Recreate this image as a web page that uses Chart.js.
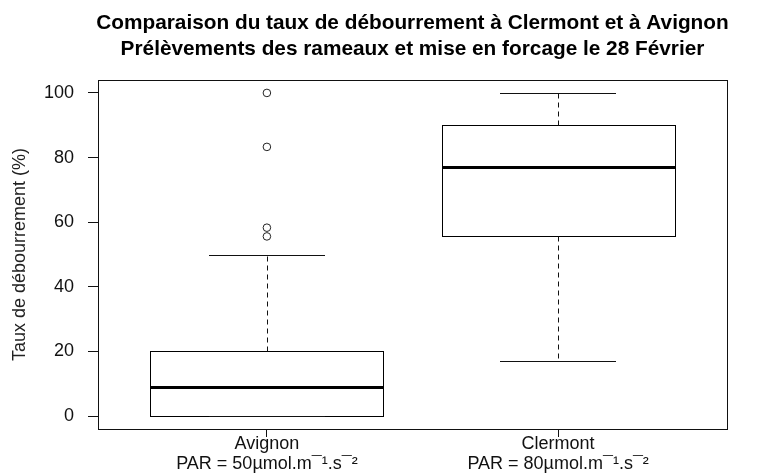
<!DOCTYPE html>
<html>
<head>
<meta charset="utf-8">
<script src="https://cdn.jsdelivr.net/npm/chart.js"></script>
<style>
  html, body { margin: 0; padding: 0; background: #fff; }
  #boite { display: block; }
</style>
</head>
<body>
<canvas id="boite" width="761" height="473"></canvas>
<script>
// valeurs (boxplot R)
const sites = ['Avignon', 'Clermont'];
const parLabels = ['PAR = 50µmol.m¯¹.s¯²', 'PAR = 80µmol.m¯¹.s¯²'];
const moustacheBas = [0, 17];
const q1 = [0, 55.6];
const mediane = [9.1, 77];
const q3 = [20, 90];
const moustacheHaut = [50, 100];
const horsAvignon = [100, 83.3, 58.3, 55.6];
const horsClermont = [];
const yTicks = [0, 20, 40, 60, 80, 100];
const titre = [
  'Comparaison du taux de débourrement à Clermont et à Avignon',
  'Prélèvements des rameaux et mise en forcage le 28 Février'
];

const police = "'Liberation Sans', Arial, sans-serif";

const boites = sites.map((s, i) => ({ x: i + 1, y: [q1[i], q3[i]] }));
const pointsHors = [
  ...horsAvignon.map(v => ({ x: 1, y: v })),
  ...horsClermont.map(v => ({ x: 2, y: v }))
];

const px = v => Math.round(v) + 0.5;

// contours, moustaches, médianes, cadre et titre
const dessinBoxplot = {
  id: 'dessinBoxplot',
  afterDatasetsDraw(chart) {
    const ctx = chart.ctx;
    const y = chart.scales.y;
    const meta = chart.getDatasetMeta(0);
    ctx.save();
    meta.data.forEach((bar, i) => {
      const cx = px(bar.x);
      const demi = bar.width / 2;
      const gauche = px(bar.x - demi), droite = px(bar.x + demi);
      // contour de la boîte
      ctx.strokeStyle = '#000';
      ctx.lineWidth = 1;
      const haut = px(y.getPixelForValue(q3[i]));
      const bas = px(y.getPixelForValue(q1[i]));
      ctx.strokeRect(gauche, haut, droite - gauche, bas - haut);
      // moustaches pointillées
      ctx.strokeStyle = '#111';
      ctx.setLineDash([5, 4]);
      ctx.beginPath();
      ctx.moveTo(cx, haut);
      ctx.lineTo(cx, px(y.getPixelForValue(moustacheHaut[i])));
      ctx.moveTo(cx, bas);
      ctx.lineTo(cx, px(y.getPixelForValue(moustacheBas[i])));
      ctx.stroke();
      ctx.setLineDash([]);
      // extrémités
      ctx.beginPath();
      [moustacheHaut[i], moustacheBas[i]].forEach(v => {
        const py = px(y.getPixelForValue(v));
        ctx.moveTo(Math.round(bar.x - demi / 2), py);
        ctx.lineTo(Math.round(bar.x + demi / 2), py);
      });
      ctx.stroke();
      // médiane
      ctx.lineWidth = 3;
      ctx.strokeStyle = '#000';
      ctx.beginPath();
      const pm = px(y.getPixelForValue(mediane[i]));
      ctx.moveTo(gauche - 0.5, pm);
      ctx.lineTo(droite + 0.5, pm);
      ctx.stroke();
    });
    // cadre
    const a = chart.chartArea;
    ctx.lineWidth = 1;
    ctx.strokeStyle = '#111';
    ctx.strokeRect(px(a.left), px(a.top),
      Math.round(a.right - a.left), Math.round(a.bottom - a.top));
    // titre
    ctx.fillStyle = '#000';
    ctx.font = "bold 20.8px " + police;
    ctx.textAlign = 'center';
    ctx.textBaseline = 'alphabetic';
    const mx = (a.left + a.right) / 2;
    ctx.fillText(titre[0], mx, 29);
    ctx.fillText(titre[1], mx, 55);
    ctx.restore();
  }
};

new Chart(document.getElementById('boite'), {
  type: 'bar',
  data: {
    datasets: [{
      type: 'bar',
      data: boites,
      backgroundColor: '#fff',
      borderWidth: 0,
      categoryPercentage: 0.8,
      barPercentage: 1
    }, {
      type: 'scatter',
      data: pointsHors,
      pointStyle: 'circle',
      pointRadius: 3.8,
      backgroundColor: '#fff',
      borderColor: '#222',
      borderWidth: 1
    }]
  },
  options: {
    responsive: false,
    animation: false,
    devicePixelRatio: 1,
    layout: { padding: { top: 80, right: 34, left: 0, bottom: 0 } },
    plugins: { legend: { display: false }, tooltip: { enabled: false } },
    scales: {
      x: {
        type: 'linear',
        min: 0.42,
        max: 2.58,
        offset: false,
        afterBuildTicks: s => { s.ticks = sites.map((n, i) => ({ value: i + 1 })); },
        afterFit: s => { s.height = 44; },
        ticks: {
          callback: (v) => [sites[v - 1], parLabels[v - 1]],
          color: '#111',
          font: { family: police, size: 18, lineHeight: 1.1 },
          padding: -3,
          maxRotation: 0,
          autoSkip: false
        },
        grid: { drawOnChartArea: false, offset: false, color: '#111', tickLength: 8 },
        border: { display: false }
      },
      y: {
        min: -4,
        max: 104,
        afterBuildTicks: s => { s.ticks = yTicks.map(v => ({ value: v })); },
        afterFit: s => { s.width = 98; },
        ticks: {
          color: '#111',
          font: { family: police, size: 18 },
          padding: 14
        },
        grid: { drawOnChartArea: false, color: '#111', tickLength: 10 },
        border: { display: false },
        title: {
          display: true,
          text: 'Taux de débourrement (%)',
          color: '#222',
          font: { family: police, size: 18 },
          padding: { top: 9 }
        }
      }
    }
  },
  plugins: [dessinBoxplot]
});
</script>
</body>
</html>
